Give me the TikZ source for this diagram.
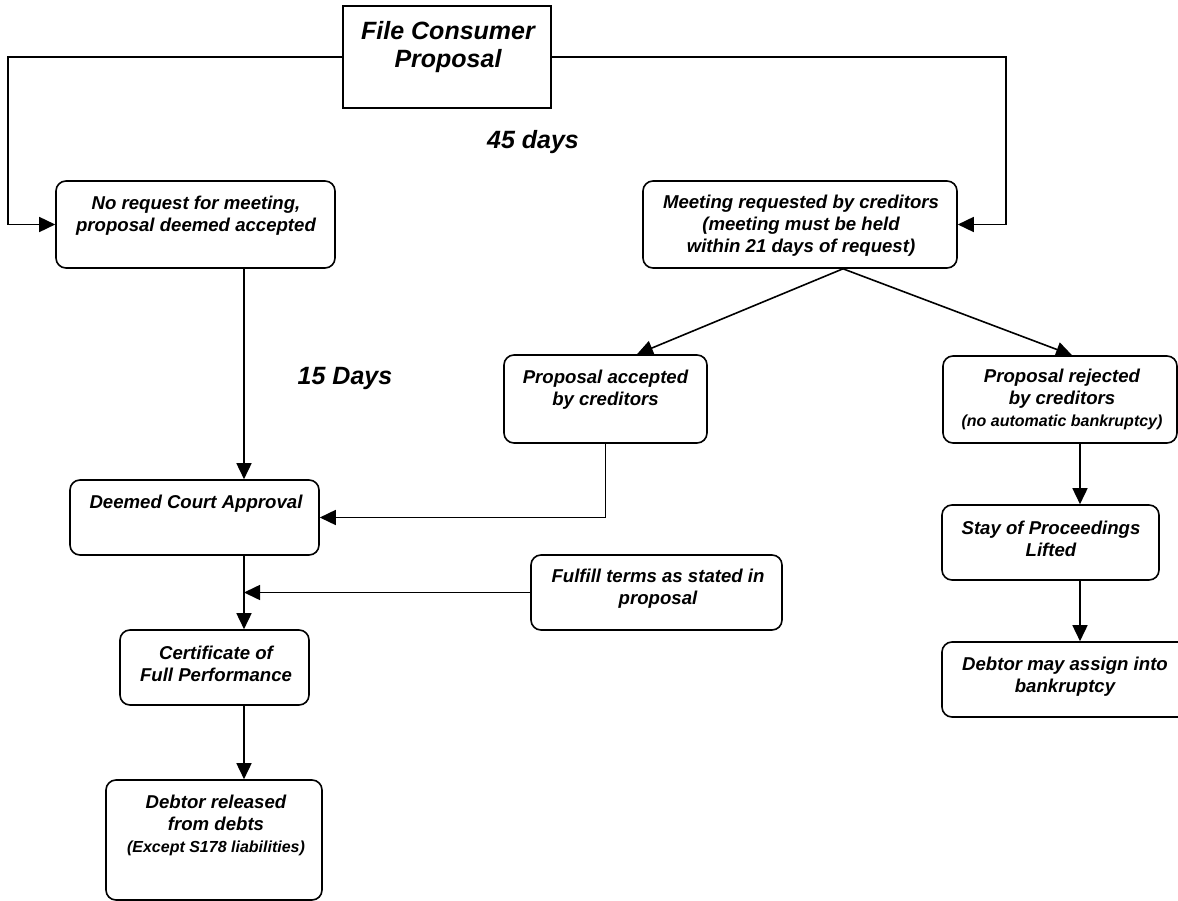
\documentclass[tikz,border=0pt]{standalone}
\usepackage{fontspec}
\setmainfont{Liberation Sans}
\usetikzlibrary{arrows.meta,calc}
\begin{document}
\begin{tikzpicture}[x=1pt,y=-1pt,
  lw/.style={line width=1.6pt},
  rbox/.style={draw, lw, rounded corners=10pt, inner sep=0pt},
  sbox/.style={draw, lw, inner sep=0pt},
  txt/.style={inner sep=0pt, align=center, font={\fontsize{18.6}{22}\selectfont\bfseries\itshape}},
  big/.style={inner sep=0pt, align=center, font={\fontsize{25}{28.5}\selectfont\bfseries\itshape}},
  arr/.style={lw, -{Triangle[length=16pt,width=15pt]}},
  con/.style={lw}]
\path[use as bounding box, fill=white] (0,0) rectangle (1178,901);

% boxes
\node[sbox, minimum width=208pt, minimum height=102pt] (title) at (447,57) {};
\node[rbox, minimum width=279pt, minimum height=87pt] (noreq) at (195.5,224.5) {};
\node[rbox, minimum width=314pt, minimum height=87pt] (meet) at (800,224.5) {};
\node[rbox, minimum width=203pt, minimum height=88pt] (acc) at (605.5,399) {};
\node[rbox, minimum width=234pt, minimum height=87pt] (rej) at (1060,399.5) {};
\node[rbox, minimum width=249pt, minimum height=75pt] (deem) at (194.5,517.5) {};
\node[rbox, minimum width=251pt, minimum height=75pt] (ful) at (656.5,592.5) {};
\node[rbox, minimum width=189pt, minimum height=75pt] (cert) at (214.5,667.5) {};
\node[rbox, minimum width=216pt, minimum height=120pt] (rel) at (214,840) {};
\node[rbox, minimum width=217pt, minimum height=75pt] (stay) at (1050.5,542.5) {};
\node[rbox, minimum width=246pt, minimum height=75pt] (may) at (1065,679.5) {};

% texts
\node[big] (titlet) at (448,47) {File Consumer\\Proposal};
\node[big] (d45) at (533,142) {45 days};
\node[big] (d15) at (345,378) {15 Days};
\node[txt] (noreqt) at (196,216) {No request for meeting,\\proposal deemed accepted};
\node[txt] (meett) at (801,226) {Meeting requested by creditors\\(meeting must be held\\within 21 days of request)};
\node[txt] (acct) at (605.5,390) {Proposal accepted\\by creditors};
\node[txt] (rejt) at (1062,399) {Proposal rejected\\by creditors\\{\fontsize{16}{18}\selectfont (no automatic bankruptcy)}};
\node[txt] (deemt) at (196,504) {Deemed Court Approval};
\node[txt] (fult) at (658,589) {Fulfill terms as stated in\\proposal};
\node[txt] (certt) at (216,663.5) {Certificate of\\Full Performance};
\node[txt] (relt) at (216,825.5) {Debtor released\\from debts\\{\fontsize{16}{18}\selectfont (Except S178 liabilities)}};
\node[txt] (stayt) at (1051,538.5) {Stay of Proceedings\\Lifted};
\node[txt] (mayt) at (1065,677) {Debtor may assign into\\bankruptcy};

% helper coordinates
\coordinate (lft) at (8,57);
\coordinate (rgt) at (1006,57);
\coordinate (colL) at (244,0);
\coordinate (colR) at (1080,0);
\coordinate (apx) at (843,0);
\coordinate (accin) at (637,0);
\coordinate (rejin) at (1072,0);

% connectors
\draw[arr] (title.west) -- (lft) |- (noreq.west);
\draw[arr] (title.east) -- (rgt) |- (meet.east);
\draw[arr] (noreq.south -| colL) -- (deem.north -| colL);
\draw[arr] (meet.south -| apx) -- (acc.north -| accin);
\draw[arr] (meet.south -| apx) -- (rej.north -| rejin);
\draw[arr] (acc.south) |- (deem.east);
\draw[arr] (deem.south -| colL) -- (cert.north -| colL);
\draw[arr] (ful.west) -- (ful.west -| colL);
\draw[arr] (cert.south -| colL) -- (rel.north -| colL);
\draw[arr] (rej.south -| colR) -- (stay.north -| colR);
\draw[arr] (stay.south -| colR) -- (may.north -| colR);
\end{tikzpicture}
\end{document}
